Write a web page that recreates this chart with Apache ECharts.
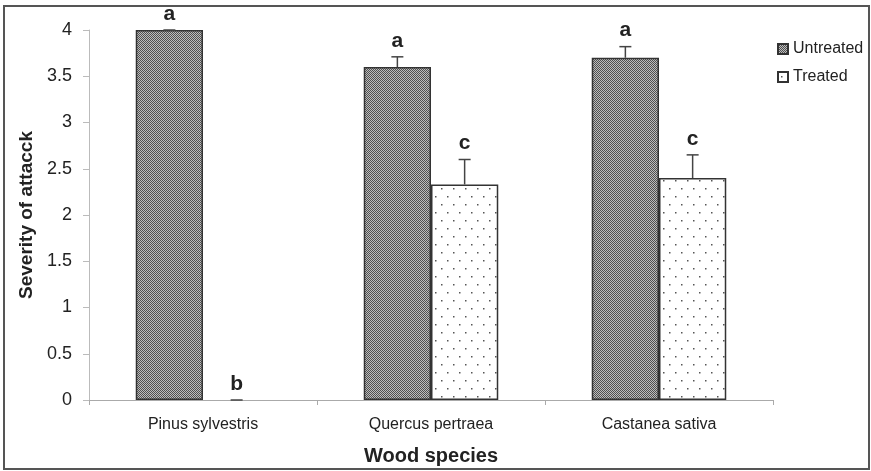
<!DOCTYPE html>
<html>
<head>
<meta charset="utf-8">
<script src="https://cdn.jsdelivr.net/npm/echarts@6/dist/echarts.min.js"></script>
<style>
  html, body { margin: 0; padding: 0; background: #fff; }
  #frame {
    position: absolute; left: 3px; top: 5px; width: 863px; height: 461px;
    border: 2px solid #555; box-sizing: content-box;
  }
  #chart { position: absolute; left: 0; top: 0; width: 871px; height: 471px; }
</style>
</head>
<body>
<div id="frame"></div>
<div id="chart"></div>
<script>
// Wood species attack severity, untreated vs treated, with upper error bars.

const categories = ['Pinus sylvestris', 'Quercus pertraea', 'Castanea sativa']
const untreated = [4, 3.6, 3.7]
const treated = [0, 2.33, 2.4]
const untreatedErr = [0, 0.11, 0.12]
const treatedErr = [0, 0.27, 0.25]
const untreatedLetters = ['a', 'a', 'a']
const treatedLetters = ['b', 'c', 'c']
const yTicks = [0, 0.5, 1, 1.5, 2, 2.5, 3, 3.5, 4]

const FONT = '"Liberation Sans", Arial, sans-serif'
const CAT_GAP = 0.41

function checkerPattern() {
  const c = document.createElement('canvas')
  c.width = 2; c.height = 2
  const g = c.getContext('2d')
  g.fillStyle = '#bdbdbd'; g.fillRect(0, 0, 2, 2)
  g.fillStyle = '#505050'
  g.fillRect(0, 0, 1, 1); g.fillRect(1, 1, 1, 1)
  return c
}

function dotPattern() {
  const c = document.createElement('canvas')
  c.width = 12; c.height = 16
  const g = c.getContext('2d')
  g.fillStyle = '#fff'; g.fillRect(0, 0, 12, 16)
  g.fillStyle = '#555'
  g.fillRect(3, 4, 1.5, 1.5); g.fillRect(9, 12, 1.5, 1.5)
  return c
}

// zero-height bars get no outline (the reference shows only the cap there)
function barData(values) {
  return values.map((v) => (v === 0 ? { value: v, itemStyle: { borderWidth: 0 } } : v))
}

const chart = echarts.init(document.getElementById('chart'), null, { renderer: 'canvas' })

function errSeries(name, values, errs, letters, side) {
  return {
    name: name + ' err',
    type: 'custom',
    z: 5,
    data: values.map((v, i) => [i, v, errs[i]]),
    renderItem: (params, api) => {
      const i = api.value(0)
      const v = api.value(1)
      const e = api.value(2)
      const band = api.size([1, 0])[0]
      const barW = band * (1 - CAT_GAP) / 2
      const base = api.coord([i, v])
      const x = base[0] + side * barW / 2
      const top = api.coord([i, v + e])[1]
      return {
        type: 'group',
        children: [
          {
            type: 'line', shape: { x1: x, y1: base[1], x2: x, y2: top },
            style: { stroke: '#444', lineWidth: 1.5 }
          },
          {
            type: 'line', shape: { x1: x - 6, y1: top, x2: x + 6, y2: top },
            style: { stroke: '#444', lineWidth: 1.5 }
          },
          {
            type: 'text',
            style: {
              x: x, y: top - 16, text: letters[i],
              font: 'bold 21px ' + FONT, fill: '#222',
              align: 'center', verticalAlign: 'middle'
            }
          }
        ]
      }
    }
  }
}

chart.setOption({
  backgroundColor: 'transparent',
  animation: false,
  textStyle: { fontFamily: FONT },
  grid: { left: 89, right: 98, top: 30, bottom: 71 },
  legend: {
    orient: 'vertical', left: 772, top: 36,
    icon: 'rect',
    itemWidth: 10, itemHeight: 10, itemGap: 12,
    data: ['Untreated', 'Treated'],
    textStyle: { fontSize: 16, color: '#222', fontFamily: FONT }
  },
  xAxis: {
    type: 'category',
    data: categories,
    name: 'Wood species',
    nameLocation: 'middle',
    nameGap: 46,
    nameTextStyle: { fontSize: 20, fontWeight: 'bold', color: '#222', fontFamily: FONT },
    axisLine: { lineStyle: { color: '#aaa', width: 1 } },
    axisTick: { show: true, length: 5, lineStyle: { color: '#aaa' } },
    axisLabel: { fontSize: 16, color: '#222', margin: 17, fontFamily: FONT }
  },
  yAxis: {
    type: 'value',
    min: yTicks[0], max: yTicks[yTicks.length - 1], interval: 0.5,
    name: 'Severity of attacck',
    nameLocation: 'middle',
    nameGap: 52,
    nameTextStyle: { fontSize: 19, fontWeight: 'bold', color: '#222', fontFamily: FONT },
    axisLine: { show: true, lineStyle: { color: '#bbb', width: 1 } },
    axisTick: { show: true, length: 6, lineStyle: { color: '#bbb' } },
    splitLine: { show: false },
    axisLabel: { fontSize: 18, color: '#222', margin: 17, fontFamily: FONT }
  },
  series: [
    {
      name: 'Untreated', type: 'bar', data: barData(untreated),
      barCategoryGap: CAT_GAP * 100 + '%', barGap: '0%',
      itemStyle: {
        color: { image: checkerPattern(), repeat: 'repeat' },
        borderColor: '#333', borderWidth: 1.5
      }
    },
    {
      name: 'Treated', type: 'bar', data: barData(treated),
      barCategoryGap: CAT_GAP * 100 + '%', barGap: '0%',
      itemStyle: {
        color: { image: dotPattern(), repeat: 'repeat' },
        borderColor: '#333', borderWidth: 1.5
      }
    },
    errSeries('Untreated', untreated, untreatedErr, untreatedLetters, -1),
    errSeries('Treated', treated, treatedErr, treatedLetters, 1)
  ]
})
</script>
</body>
</html>
